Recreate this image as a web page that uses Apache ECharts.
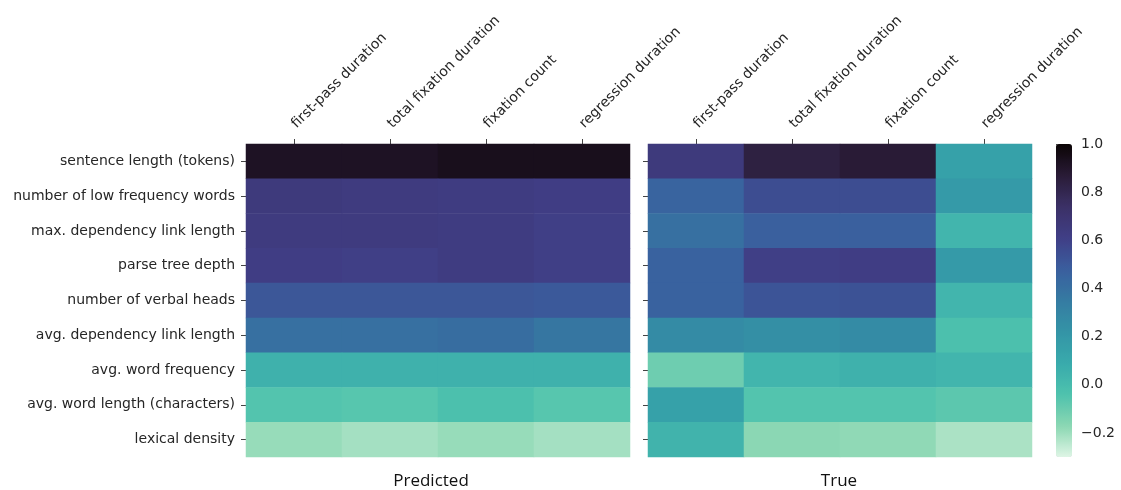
<!DOCTYPE html>
<html>
<head>
<meta charset="utf-8">
<title>Predicted vs true correlations</title>
<script src="https://cdn.jsdelivr.net/npm/echarts@6/dist/echarts.min.js"></script>
<style>
  html, body { margin: 0; padding: 0; background: #ffffff; }
  #chart { width: 1121px; height: 490px; }
</style>
</head>
<body>
<div id="chart"></div>
<script>
// Eye-tracking measures (columns) and sentence features (rows)
const measures = ['first-pass duration', 'total fixation duration', 'fixation count', 'regression duration'];
const features = [
  'sentence length (tokens)',
  'number of low frequency words',
  'max. dependency link length',
  'parse tree depth',
  'number of verbal heads',
  'avg. dependency link length',
  'avg. word frequency',
  'avg. word length (characters)',
  'lexical density'
];

// Correlation values, one row per feature, one column per measure
const predicted = [
  [0.92, 0.92, 0.94, 0.94],
  [0.65, 0.64, 0.63, 0.62],
  [0.64, 0.64, 0.63, 0.61],
  [0.62, 0.61, 0.63, 0.61],
  [0.51, 0.51, 0.51, 0.50],
  [0.40, 0.40, 0.41, 0.37],
  [0.05, 0.05, 0.05, 0.05],
  [-0.05, -0.06, -0.03, -0.06],
  [-0.19, -0.21, -0.19, -0.21]
];
const observed = [
  [0.65, 0.84, 0.87, 0.14],
  [0.45, 0.55, 0.55, 0.19],
  [0.40, 0.47, 0.47, 0.03],
  [0.46, 0.61, 0.62, 0.19],
  [0.46, 0.52, 0.53, 0.03],
  [0.27, 0.25, 0.27, -0.03],
  [-0.11, 0.03, 0.05, 0.03],
  [0.14, -0.05, -0.05, -0.07],
  [0.04, -0.17, -0.18, -0.22]
];

// Colour scale range and colour bar ticks
const scaleMin = -0.3;
const scaleMax = 1.0;
const colorbarTicks = [-0.2, 0.0, 0.2, 0.4, 0.6, 0.8, 1.0];

// "mako" palette stops (position 0 = darkest), reversed onto the value range
const makoStops = [
  [0.0, '#0B0405'], [0.1, '#291B36'], [0.2, '#3B3166'], [0.3, '#403E86'],
  [0.4, '#3A5E9E'], [0.5, '#357BA2'], [0.6, '#3494A6'], [0.7, '#38AAAC'],
  [0.8, '#4EC2AD'], [0.9, '#8AD7B2'], [1.0, '#DEF5E5']
];
function hexToRgb(h) {
  return [parseInt(h.slice(1, 3), 16), parseInt(h.slice(3, 5), 16), parseInt(h.slice(5, 7), 16)];
}
function mako(t) {
  for (let i = 1; i < makoStops.length; i++) {
    const [p1, c1] = makoStops[i];
    const [p0, c0] = makoStops[i - 1];
    if (t <= p1) {
      const f = (t - p0) / (p1 - p0);
      const a = hexToRgb(c0), b = hexToRgb(c1);
      const c = a.map((v, k) => Math.round(v + (b[k] - v) * f));
      return 'rgb(' + c.join(',') + ')';
    }
  }
  return makoStops[makoStops.length - 1][1];
}
// Low value -> light, high value -> dark
const rampColors = [];
for (let i = 0; i <= 64; i++) rampColors.push(mako(1 - i / 64));

function toCells(matrix) {
  const cells = [];
  matrix.forEach((row, r) => row.forEach((v, c) => cells.push([c, r, v])));
  return cells;
}

const textColor = '#262626';
const tickColor = '#444444';
const baseFont = 'DejaVu Sans';
const labelSize = 14;

const gridTop = 144, gridHeight = 313, cellBlock = 384;
const leftX = 246, rightX = 648, barX = 1056, barW = 16;

function topAxis(gridIndex) {
  return {
    type: 'category', gridIndex, data: measures, position: 'top',
    axisLine: { show: false },
    axisTick: { show: true, alignWithLabel: true, length: 5, lineStyle: { color: tickColor, width: 1 } },
    axisLabel: { rotate: -45, margin: 18, color: textColor, fontSize: labelSize, fontFamily: baseFont, interval: 0 },
    splitLine: { show: false }
  };
}
function sideAxis(gridIndex, showLabels) {
  return {
    type: 'category', gridIndex, data: features, inverse: true,
    axisLine: { show: false },
    axisTick: { show: true, alignWithLabel: true, length: 5, lineStyle: { color: tickColor, width: 1 } },
    axisLabel: { show: showLabels, margin: 11, color: textColor, fontSize: labelSize, fontFamily: baseFont, interval: 0 },
    splitLine: { show: false }
  };
}

const chart = echarts.init(document.getElementById('chart'), null, { renderer: 'canvas' });
chart.setOption({
  backgroundColor: '#ffffff',
  animation: false,
  grid: [
    { left: leftX, top: gridTop, width: cellBlock, height: gridHeight },
    { left: rightX, top: gridTop, width: cellBlock, height: gridHeight },
    { left: barX, top: gridTop, width: barW, height: gridHeight }
  ],
  xAxis: [
    topAxis(0),
    topAxis(1),
    { type: 'value', gridIndex: 2, show: false, min: 0, max: 1 }
  ],
  yAxis: [
    sideAxis(0, true),
    sideAxis(1, false),
    {
      type: 'value', gridIndex: 2, position: 'right', min: scaleMin, max: scaleMax,
      axisLine: { show: false },
      splitLine: { show: false },
      axisTick: { show: true, length: 4, customValues: colorbarTicks, lineStyle: { color: tickColor, width: 1 } },
      axisLabel: {
        show: true, margin: 9, color: textColor, fontSize: labelSize, fontFamily: baseFont,
        customValues: colorbarTicks,
        formatter: v => (v < -1e-9 ? '\u2212' + Math.abs(v).toFixed(1) : Math.abs(v).toFixed(1))
      }
    }
  ],
  visualMap: {
    type: 'continuous', min: scaleMin, max: scaleMax, seriesIndex: [0, 1],
    orient: 'vertical', left: barX, top: gridTop, itemWidth: barW, itemHeight: gridHeight,
    padding: 0, calculable: false, text: null, showLabel: false, hoverLink: false,
    inRange: { color: rampColors }
  },
  graphic: [
    { type: 'text', x: 431, y: 481, style: { text: 'Predicted', fill: '#111', font: '17px "Open Sans"', textAlign: 'center', textVerticalAlign: 'middle' } },
    { type: 'text', x: 839, y: 481, style: { text: 'True', fill: '#111', font: '17px "Open Sans"', textAlign: 'center', textVerticalAlign: 'middle' } }
  ],
  series: [
    { name: 'Predicted', type: 'heatmap', xAxisIndex: 0, yAxisIndex: 0, data: toCells(predicted), itemStyle: { borderWidth: 0 }, emphasis: { disabled: true } },
    { name: 'True', type: 'heatmap', xAxisIndex: 1, yAxisIndex: 1, data: toCells(observed), itemStyle: { borderWidth: 0 }, emphasis: { disabled: true } }
  ]
});
</script>
</body>
</html>
